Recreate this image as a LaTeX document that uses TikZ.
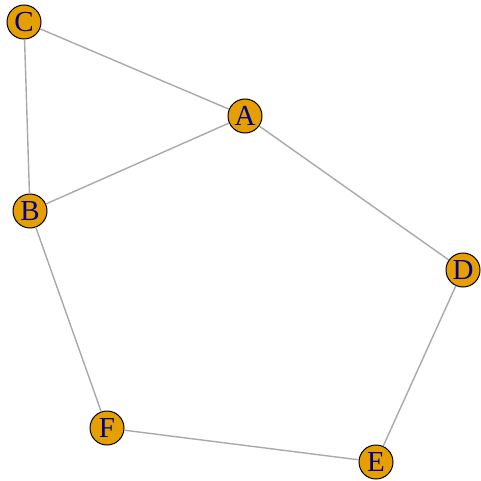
\documentclass[tikz,border=0pt]{standalone}
\usepackage{xcolor}
\usepackage{fontspec}
\setmainfont{Liberation Serif}
\usepackage{tikz}
\definecolor{vorange}{RGB}{230,159,0}
\definecolor{vblue}{RGB}{0,0,139}
\definecolor{egray}{RGB}{169,169,169}
\tikzset{
    vertex/.style={circle, draw=black, line width=1pt, fill=vorange, minimum size=34pt, inner sep=0pt, text=vblue, font=\fontsize{29}{29}\selectfont},
    link/.style={draw=egray, line width=1.4pt}
}

\begin{document}
\begin{tikzpicture}[x=1pt, y=-1pt]
    \useasboundingbox (0,0) rectangle (480,481);
    % Vertices
    \foreach \n/\x/\y in {C/24/22, A/245/116, B/30/211, D/463/270, F/107/428, E/376/462} {
        \node[vertex] (\n) at (\x,\y) {\n};
    }
    % Edges, stopping at the circles
    \foreach \a/\b in {C/A, C/B, A/B, A/D, B/F, F/E, E/D} {
        \draw[link] (\a) -- (\b);
    }
\end{tikzpicture}
\end{document}
